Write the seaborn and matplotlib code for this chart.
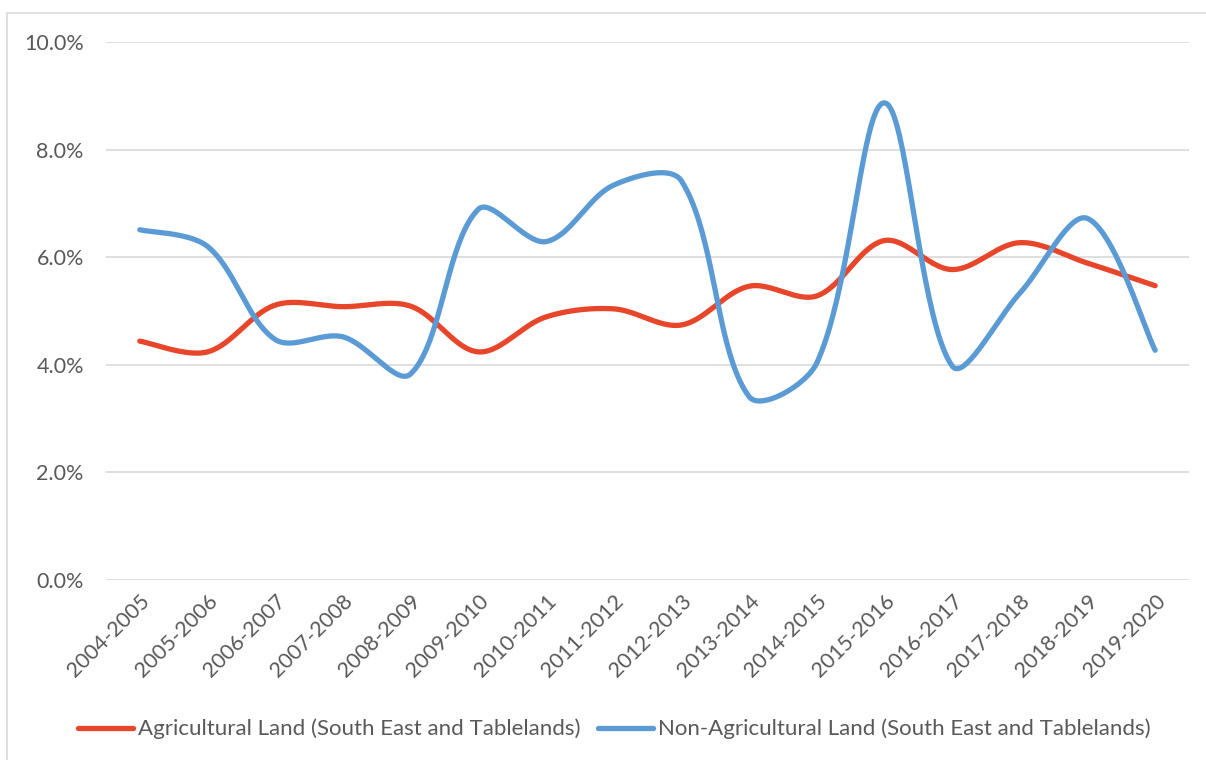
import numpy as np
import pandas as pd
import matplotlib
matplotlib.use("Agg")
import matplotlib.pyplot as plt
from matplotlib.patches import Rectangle
import seaborn as sns

# Annual rates (%) by financial year
years = ["2004-2005", "2005-2006", "2006-2007", "2007-2008", "2008-2009",
         "2009-2010", "2010-2011", "2011-2012", "2012-2013", "2013-2014",
         "2014-2015", "2015-2016", "2016-2017", "2017-2018", "2018-2019",
         "2019-2020"]
agricultural = [4.44, 4.24, 5.11, 5.08, 5.09, 4.24, 4.89, 5.04, 4.74, 5.46,
                5.28, 6.31, 5.77, 6.27, 5.89, 5.47]
non_agricultural = [6.51, 6.20, 4.47, 4.52, 3.83, 6.89, 6.29, 7.34, 7.42, 3.41,
                    4.03, 8.87, 3.98, 5.33, 6.72, 4.27]

series_names = ["Agricultural Land (South East and Tablelands)",
                "Non-Agricultural Land (South East and Tablelands)"]
colors = ["#E8462A", "#5B9BD5"]

# screen aspect: pixels per category step and per percentage point
X_UNIT, Y_UNIT = 67.7, 53.8


def smooth_curve(values, steps=40):
    """Bezier smoothing through every point; tangents scaled by neighbouring chord lengths."""
    v = np.asarray(values, dtype=float)
    n = len(v)
    pts = np.column_stack([np.arange(n) * X_UNIT, v * Y_UNIT])
    ext = np.vstack([pts[0], pts, pts[-1]])
    t = np.linspace(0, 1, steps, endpoint=False)
    out = []
    for i in range(1, n):
        p0, p1, p2, p3 = ext[i - 1], ext[i], ext[i + 1], ext[i + 2]
        d01 = np.linalg.norm(p1 - p0)
        d12 = np.linalg.norm(p2 - p1)
        d23 = np.linalg.norm(p3 - p2)
        f1 = d12 / (d01 + d12) / 3.0 if d01 > 0 else 1 / 6
        f2 = d12 / (d12 + d23) / 3.0 if d23 > 0 else 1 / 6
        c1 = p1 + (p2 - p0) * f1
        c2 = p2 - (p3 - p1) * f2
        b = (((1 - t) ** 3)[:, None] * p1 + (3 * (1 - t) ** 2 * t)[:, None] * c1
             + (3 * (1 - t) * t ** 2)[:, None] * c2 + (t ** 3)[:, None] * p2)
        out.append(b)
    out.append(pts[-1][None, :])
    out = np.vstack(out)
    return out[:, 0] / X_UNIT, out[:, 1] / Y_UNIT


frames = []
for name, vals in zip(series_names, [agricultural, non_agricultural]):
    sx, sy = smooth_curve(vals)
    frames.append(pd.DataFrame({"x": sx, "value": sy, "series": name}))
df = pd.concat(frames, ignore_index=True)

sns.set_theme(style="white")
plt.rcParams["font.family"] = ["Lato", "DejaVu Sans"]

fig = plt.figure(figsize=(12.06, 7.60), dpi=100)
ax = fig.add_axes([106 / 1206, 1 - 580 / 760, (1189 - 106) / 1206, (580 - 42) / 760])

sns.lineplot(data=df, x="x", y="value", hue="series", palette=colors,
             hue_order=series_names, sort=False, estimator=None,
             linewidth=3.8, solid_capstyle="round", ax=ax)

ax.set_xlim(-0.5, len(years) - 0.5)
ax.set_ylim(0, 10)
ax.set_yticks(np.arange(0, 10.01, 2))
ax.set_yticklabels([f"{v:.1f}%" for v in np.arange(0, 10.01, 2)])
ax.set_xticks(range(len(years)))
ax.set_xticklabels(years, rotation=45, ha="right", rotation_mode="anchor")
ax.tick_params(axis="both", length=0, labelsize=15.5, labelcolor="#595959")
ax.tick_params(axis="y", pad=16)
ax.tick_params(axis="x", pad=8)
ax.yaxis.grid(True, color="#D9D9D9", linewidth=1.2)
ax.set_axisbelow(True)
for s in ax.spines.values():
    s.set_visible(False)
ax.set_xlabel("")
ax.set_ylabel("")

handles, labels = ax.get_legend_handles_labels()
ax.legend_.remove()
fig.legend(handles, labels, loc="center", bbox_to_anchor=(614 / 1206, 1 - 729 / 760),
           ncol=2, frameon=False, fontsize=16, handlelength=2.5, handletextpad=0.2,
           columnspacing=0.8, labelcolor="#595959")

# light chart-area border
fig.patches.append(Rectangle((7 / 1206, -0.05), 1.1, 1 - 13 / 760 + 0.05,
                             transform=fig.transFigure, fill=False,
                             edgecolor="#D9D9D9", linewidth=1.2))

fig.savefig("out.png", dpi=100, facecolor="white")
